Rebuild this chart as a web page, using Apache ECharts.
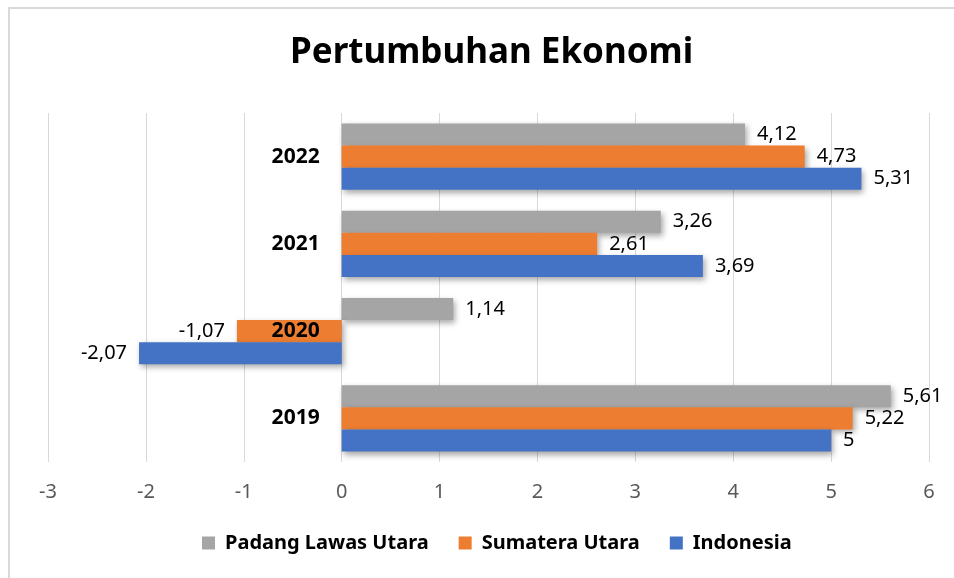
<!DOCTYPE html>
<html>
<head>
<meta charset="utf-8">
<script src="https://cdn.jsdelivr.net/npm/echarts@6/dist/echarts.min.js"></script>
<style>
html, body { margin: 0; padding: 0; background: #fff; }
#main { width: 954px; height: 578px; }
</style>
</head>
<body>
<div id="main"></div>
<script>
// data dari grafik
const tahun = ['2019', '2020', '2021', '2022'];
const indonesia = [5, -2.07, 3.69, 5.31];
const sumut = [5.22, -1.07, 2.61, 4.73];
const palas = [5.61, 1.14, 3.26, 4.12];
const xTicks = [-3, -2, -1, 0, 1, 2, 3, 4, 5, 6];

const fontName = '"Noto Sans", "Open Sans", sans-serif';
const gridLeft = 48, gridRight = 25, chartW = 954;

function fmt(v) {
    return String(v).replace('.', ',');
}

function makeSeries(name, values, color) {
    return {
        name: name,
        type: 'bar',
        barGap: '0%',
        barCategoryGap: '24%',
        itemStyle: {
            color: color,
            shadowBlur: 6,
            shadowColor: 'rgba(0,0,0,0.35)',
            shadowOffsetX: 2,
            shadowOffsetY: 3
        },
        label: {
            show: true,
            distance: 12,
            color: '#000',
            fontSize: 20,
            fontFamily: fontName,
            formatter: function (p) { return fmt(p.value); }
        },
        data: values.map(function (v) {
            return { value: v, label: { position: v < 0 ? 'left' : 'right' } };
        })
    };
}

// geser sumbu kategori ke posisi nol
const xMin = xTicks[0], xMax = xTicks[xTicks.length - 1];
const zeroOffset = -(0 - xMin) / (xMax - xMin) * (chartW - gridLeft - gridRight);

const myEcharts = echarts.init(document.getElementById('main'));
const option = {
    animation: false,
    graphic: [{
        type: 'rect',
        shape: { x: 9, y: 8, width: 2000, height: 2000 },
        style: { fill: 'none', stroke: '#d9d9d9', lineWidth: 2 },
        silent: true
    }],
    title: {
        text: 'Pertumbuhan Ekonomi',
        left: 285,
        top: 31,
        textStyle: {
            fontSize: 35,
            fontWeight: 'bold',
            color: '#000',
            fontFamily: fontName
        }
    },
    legend: {
        data: ['Padang Lawas Utara', 'Sumatera Utara', 'Indonesia'],
        bottom: 20,
        left: 197,
        icon: 'rect',
        itemWidth: 13,
        itemHeight: 13,
        itemGap: 30,
        textStyle: {
            fontSize: 20,
            fontWeight: 'bold',
            color: '#000',
            fontFamily: fontName,
            padding: [0, 0, 0, 5]
        }
    },
    grid: {
        left: gridLeft,
        right: gridRight,
        top: 113,
        bottom: 116,
        outerBoundsMode: 'none'
    },
    xAxis: {
        type: 'value',
        min: xMin,
        max: xMax,
        interval: 1,
        axisLine: { show: false },
        axisTick: { show: false },
        splitLine: { lineStyle: { color: '#d9d9d9', width: 1 } },
        axisLabel: {
            color: '#595959',
            fontSize: 20,
            fontFamily: fontName,
            margin: 20
        }
    },
    yAxis: {
        type: 'category',
        data: tahun,
        z: 5,
        offset: zeroOffset,
        axisLine: { show: false },
        axisTick: { show: false },
        axisLabel: {
            color: '#000',
            fontWeight: 'bold',
            fontSize: 21,
            fontFamily: fontName,
            margin: 22
        }
    },
    series: [
        makeSeries('Padang Lawas Utara', palas, '#a5a5a5'),
        makeSeries('Sumatera Utara', sumut, '#ed7d31'),
        makeSeries('Indonesia', indonesia, '#4472c4')
    ]
};
myEcharts.setOption(option);
window.addEventListener('resize', () => {
    myEcharts.resize();
});
</script>
</body>
</html>
